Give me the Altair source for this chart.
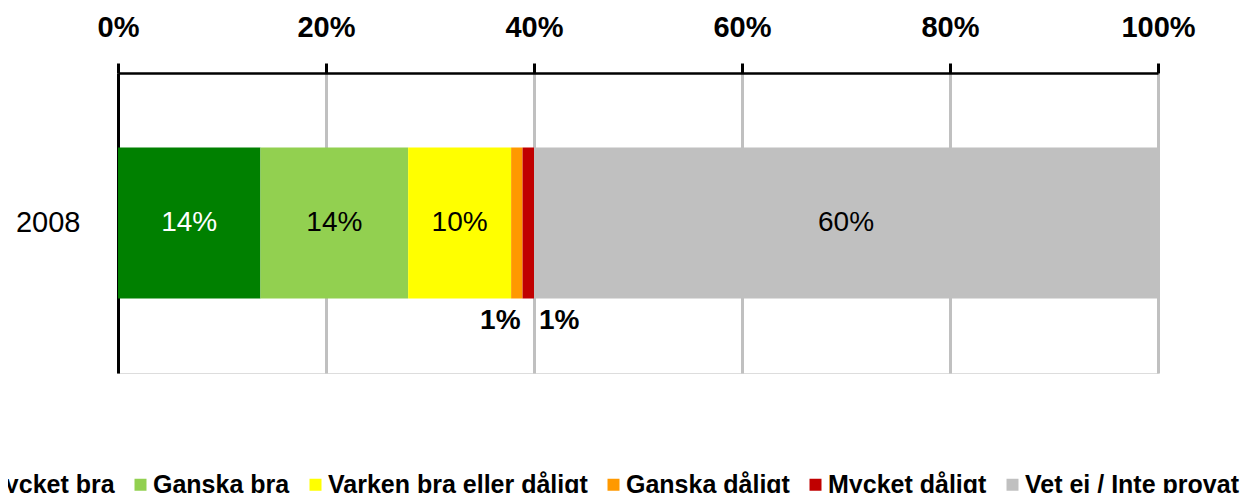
import altair as alt
import pandas as pd

years = ["2008"]
categories = ["Mycket bra", "Ganska bra", "Varken bra eller dåligt",
              "Ganska dåligt", "Mycket dåligt", "Vet ej / Inte provat"]
values = [13.7, 14.2, 9.9, 1.1, 1.1, 60.0]
labels = ["14%", "14%", "10%", "1%", "1%", "60%"]
colors = ["#008000", "#92D050", "#FFFF00", "#FF9900", "#C00000", "#C0C0C0"]
x_ticks = [0, 0.2, 0.4, 0.6, 0.8, 1.0]

rows = []
cum = 0.0
for i, (c, v, l) in enumerate(zip(categories, values, labels)):
    start = cum / 100
    cum += v
    end = cum / 100
    rows.append({"year": years[0], "cat": c, "idx": i, "value": v,
                 "start": start, "end": end, "mid": (start + end) / 2,
                 "label": l})
df = pd.DataFrame(rows)

FONT = "Liberation Sans"

base = alt.Chart(df)

xscale = alt.Scale(domain=[0, 1], nice=False)

bars = base.mark_bar(size=151).encode(
    x=alt.X("start:Q", scale=xscale,
            axis=alt.Axis(orient="top", values=x_ticks, format=".0%", title=None,
                          grid=True, gridColor="#C0C0C0", gridWidth=3,
                          domainColor="black", domainWidth=2.5,
                          tickColor="black", tickWidth=3, tickSize=10,
                          labelFlush=False,
                          labelFont=FONT, labelFontSize=29, labelFontWeight="bold",
                          labelColor="black", labelPadding=21)),
    x2="end:Q",
    y=alt.Y("year:N", title=None,
            axis=alt.Axis(ticks=False, domainColor="black", domainWidth=3,
                          labelFont=FONT, labelFontSize=29, labelColor="black",
                          labelPadding=38)),
    color=alt.Color("cat:N", scale=alt.Scale(domain=categories, range=colors),
                    legend=alt.Legend(orient="none", legendX=-159, legendY=399,
                                      direction="horizontal", title=None,
                                      symbolType="square", symbolSize=144,
                                      symbolStrokeWidth=0,
                                      labelFont=FONT, labelFontSize=25,
                                      labelFontWeight="bold", labelColor="black",
                                      labelOffset=0, columnPadding=13,
                                      labelLimit=400)),
)

inside = base.transform_filter(alt.datum.value >= 5).mark_text(
    font=FONT, fontSize=28, baseline="middle", align="center"
).encode(
    x=alt.X("mid:Q", scale=xscale),
    y="year:N",
    text="label:N",
    color=alt.condition(alt.datum.idx == 0, alt.value("white"), alt.value("black")),
)

below_left = base.transform_filter(alt.datum.idx == 3).mark_text(
    font=FONT, fontSize=28, fontWeight="bold", baseline="middle", align="right",
    dx=-2, dy=98, color="black"
).encode(x=alt.X("end:Q", scale=xscale), y="year:N", text="label:N")

below_right = base.transform_filter(alt.datum.idx == 4).mark_text(
    font=FONT, fontSize=28, fontWeight="bold", baseline="middle", align="left",
    dx=5, dy=98, color="black"
).encode(x=alt.X("end:Q", scale=xscale), y="year:N", text="label:N")

chart = alt.layer(bars, inside, below_left, below_right).properties(
    width=1040, height=300,
    autosize=alt.AutoSizeParams(type="none"),
    padding={"left": 110, "top": 65, "right": 88, "bottom": 120},
).configure_view(strokeWidth=0).configure(background="white")

chart.save("out.html", embed_options={"renderer": "svg", "actions": False})
